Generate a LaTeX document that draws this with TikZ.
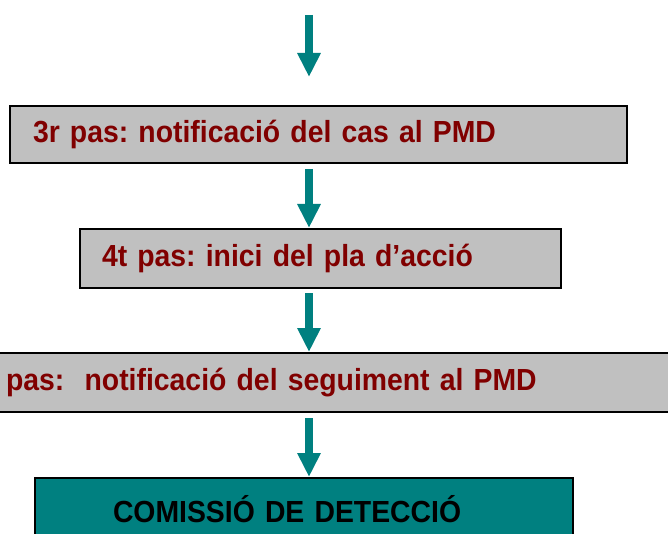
\documentclass[tikz,border=0pt]{standalone}
\usepackage{fontspec}
\setmainfont{Liberation Sans}
\newfontfamily\stepfont[FakeStretch=0.93]{Liberation Sans}
\usetikzlibrary{arrows.meta,positioning}
\definecolor{tealfill}{RGB}{0,128,128}
\definecolor{stepred}{RGB}{128,0,0}
\definecolor{boxgray}{RGB}{192,192,192}
\tikzset{
  pasbox/.style={rectangle, draw=black, line width=2pt, fill=boxgray, text=stepred,
    font=\stepfont\fontsize{30.5}{34}\selectfont\bfseries\frenchspacing, align=left, minimum height=57pt,
    inner ysep=0pt},
  flow/.style={draw=tealfill, line width=8pt, -{Triangle[width=22pt,length=24pt]}}
}

\begin{document}
\begin{tikzpicture}[x=1pt, y=-1pt]
    \clip (0,0) rectangle (668,534);
    \coordinate (in) at (309,15);
    \coordinate (inend) at (309,77);
    \node[pasbox, inner xsep=23pt, text width=571pt] (pas3) at (318.5,134.5) {3r pas: notificació del cas al PMD};
    \node[pasbox, inner xsep=22pt, text width=437pt, minimum height=59pt] (pas4) at (320.5,258.5) {4t pas: inici del pla d’acció};
    \node[pasbox, inner xsep=11pt, text width=656pt, minimum height=59pt] (pas5) at (334,382.5) {pas:~ notificació del seguiment al PMD};
    \node[pasbox, fill=tealfill, text=black, inner xsep=78pt, text width=382pt, minimum height=62pt] (comissio) at (304,509) {COMISSIÓ DE DETECCIÓ};

    \draw[flow] (in) -- (inend);
    \draw[flow, shorten <=5pt] (pas3.south -| in) -- (pas4.north -| in);
    \draw[flow, shorten <=4pt] (pas4.south -| in) -- (pas5.north -| in);
    \draw[flow, shorten <=5pt] (pas5.south -| in) -- (comissio.north -| in);
\end{tikzpicture}
\end{document}
